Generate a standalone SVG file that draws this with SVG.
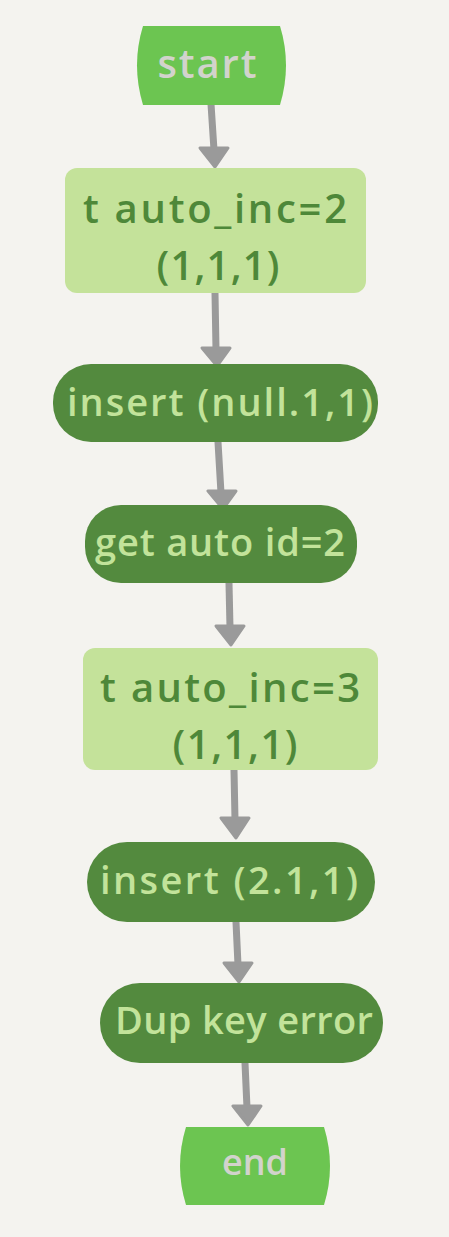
<svg xmlns="http://www.w3.org/2000/svg" width="449" height="1237" viewBox="0 0 449 1237">
<defs>
<style>
.term{fill:#6cc551}
.proc{fill:#c4e29a}
.act{fill:#538a3e}
.t{font-family:"Open Sans","DejaVu Sans",sans-serif;text-anchor:middle;dominant-baseline:central;font-weight:600}
.tt{fill:#d2d3cc;font-size:40px}
.tp{fill:#4e8839;font-size:40px}
.ta{fill:#c2e39a;font-size:38px}
.edge{stroke:#9a9a9a;stroke-width:7;stroke-linecap:round;fill:none}
.head{fill:#9a9a9a;stroke:#9a9a9a;stroke-width:3;stroke-linejoin:round}
</style>
</defs>
<rect width="449" height="1237" fill="#f4f3ef"/>
<g id="connectors">
<line class="edge" x1="211" y1="104" x2="214" y2="150"/>
<path class="head" d="M200,148 L228,148 L215,167 Z"/>
<line class="edge" x1="215" y1="293" x2="216" y2="350"/>
<path class="head" d="M202,348 L230,348 L217,366 Z"/>
<line class="edge" x1="218" y1="442" x2="221" y2="493"/>
<path class="head" d="M208,491 L236,491 L223,509 Z"/>
<line class="edge" x1="229" y1="583" x2="230" y2="628"/>
<path class="head" d="M216,626 L244,626 L231,645 Z"/>
<line class="edge" x1="234" y1="770" x2="235" y2="820"/>
<path class="head" d="M221,818 L249,818 L236,838 Z"/>
<line class="edge" x1="236" y1="922" x2="238" y2="965"/>
<path class="head" d="M224,963 L252,963 L239,982 Z"/>
<line class="edge" x1="245" y1="1063" x2="247" y2="1108"/>
<path class="head" d="M233,1106 L261,1106 L248,1125 Z"/>
</g>
<g id="start">
<path class="term" d="M143,26 H280 Q292,65 280,105 H143 Q131,65 143,26 Z"/>
<text class="t tt" x="207" y="62" textLength="99">start</text>
</g>
<g id="set-auto-inc-2">
<rect class="proc" x="65" y="168" width="301" height="125" rx="12"/>
<text class="t tp" x="215" y="207" textLength="264">t auto_inc=2</text>
<text class="t tp" x="218" y="264" textLength="123">(1,1,1)</text>
</g>
<g id="insert-null">
<rect class="act" x="53" y="364" width="325" height="78" rx="38"/>
<text class="t ta" x="220" y="401" textLength="306">insert (null.1,1)</text>
</g>
<g id="get-auto-id">
<rect class="act" x="85" y="505" width="272" height="78" rx="36"/>
<text class="t ta" x="220" y="541" textLength="250">get auto id=2</text>
</g>
<g id="set-auto-inc-3">
<rect class="proc" x="83" y="648" width="295" height="122" rx="12"/>
<text class="t tp" x="230" y="686" textLength="260">t auto_inc=3</text>
<text class="t tp" x="235" y="743" textLength="125">(1,1,1)</text>
</g>
<g id="insert-2">
<rect class="act" x="87" y="842" width="288" height="80" rx="40"/>
<text class="t ta" x="229" y="879" textLength="258">insert (2.1,1)</text>
</g>
<g id="dup-key-error">
<rect class="act" x="100" y="983" width="283" height="80" rx="40"/>
<text class="t ta" x="244" y="1019" textLength="258">Dup key error</text>
</g>
<g id="end">
<path class="term" d="M186,1127 H324 Q336,1166 324,1205 H186 Q174,1166 186,1127 Z"/>
<text class="t tt" x="255" y="1161" style="font-size:36px">end</text>
</g>
</svg>
